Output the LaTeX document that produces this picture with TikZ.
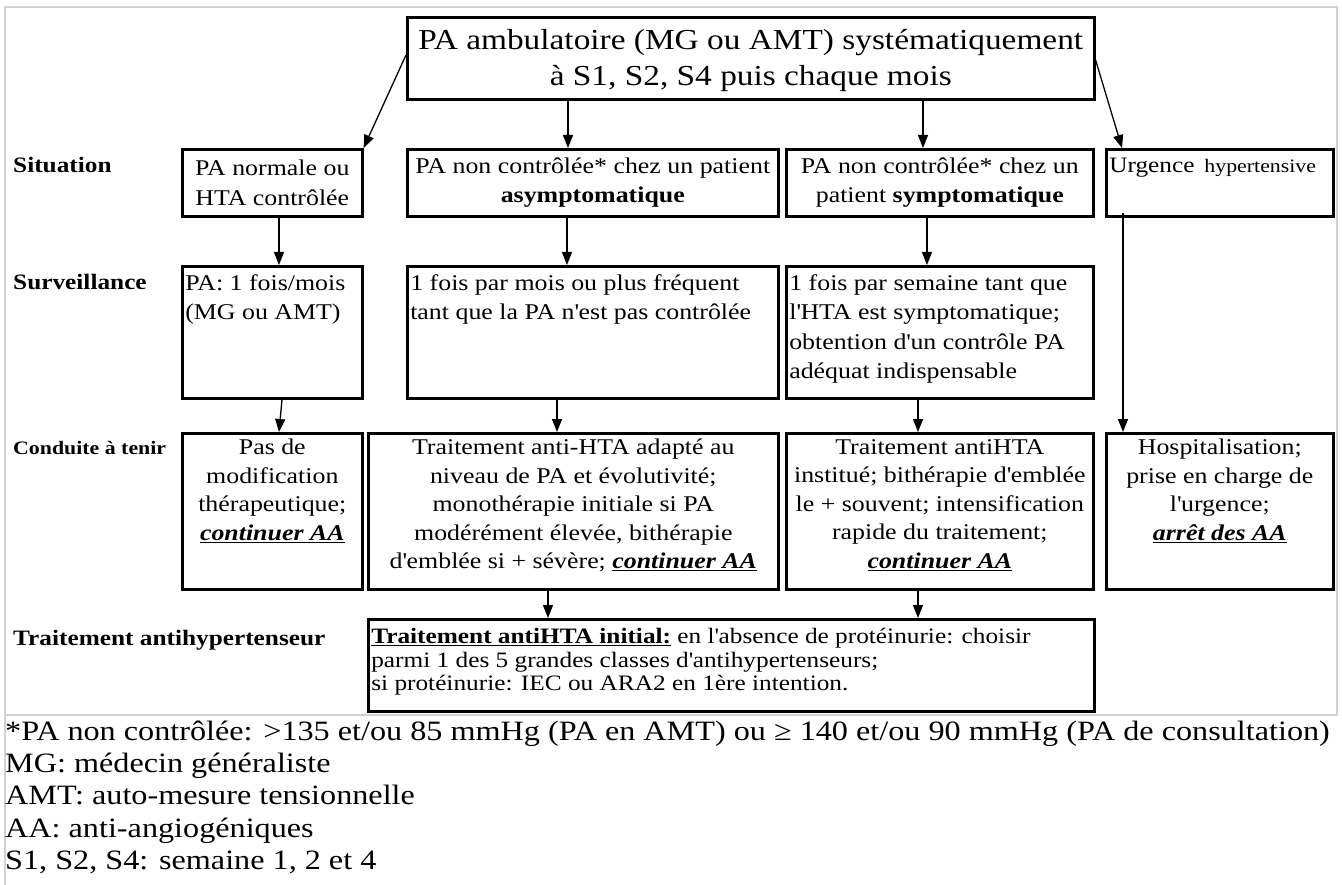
\documentclass[tikz,border=0pt]{standalone}
\usepackage{fontspec}
\setmainfont{Liberation Serif}[FakeStretch=1.15]
\usetikzlibrary{arrows.meta,calc}
\newcommand{\cellT}[4]{\begin{minipage}[c][#2pt][t]{#1pt}\vspace*{#3pt}#4\end{minipage}}
\newcommand{\cellC}[3]{\begin{minipage}[c][#2pt][c]{#1pt}#3\end{minipage}}
\newcommand{\cAA}[1]{\underline{\textbf{\textit{#1}}}}
\newcommand{\ap}{\textquotesingle}
\begin{document}
\begin{tikzpicture}[x=1pt,y=-1pt,
  box/.style={draw, line width=2.6pt, inner xsep=3pt, inner ysep=0pt, anchor=north west,
    font=\fontsize{22.5}{29.5}\selectfont},
  arr/.style={line width=1.3pt, -{Triangle[width=10pt,length=13pt]}},
  lab/.style={anchor=base west, inner sep=0pt, font=\bfseries\fontsize{22}{26}\selectfont},
  leg/.style={anchor=base west, inner sep=0pt, font=\fontsize{28}{32}\selectfont},
  frame/.style={draw=black!18, line width=1.5pt}]
\useasboundingbox (0,0) rectangle (1342,885);
\draw[frame] (5,7) rectangle (1337,715);
\draw[frame] (5,715) -- (5,885);

% top
\node[box, font=\fontsize{29}{36.5}\selectfont] (top) at (406,16)
  {\cellT{681}{82}{12}{\centering PA ambulatoire (MG ou AMT) systématiquement\\ à S1, S2, S4 puis chaque mois}};

% row labels
\node[lab] (l1) at (13,173) {Situation};
\node[lab] (l2) at (13,290) {Surveillance};
\node[lab, font=\bfseries\fontsize{19}{23}\selectfont] (l3) at (13,454) {Conduite à tenir};
\node[lab] (l4) at (13,645) {Traitement antihypertenseur};

% situation row
\node[box] (A1) at (181,148) {\cellC{174}{67}{\centering PA normale ou\\ HTA contrôlée}};
\node[box] (B1) at (406,148) {\cellC{365}{67}{\centering PA non contrôlée* chez un patient\\ \textbf{asymptomatique}}};
\node[box] (C1) at (785,148) {\cellC{301}{67}{\centering PA non contrôlée* chez un\\ patient \textbf{symptomatique}}};
\node[box] (D1) at (1105,148) {\cellT{221}{67}{9}{\raggedright\fontsize{22}{28}\selectfont Urgence\hspace{0.45em}{\fontsize{19}{24}\selectfont hypertensive}}};

% surveillance row
\node[box] (A2) at (181,265) {\cellT{174}{132}{8}{\raggedright PA: 1 fois/mois\\ (MG ou AMT)}};
\node[box] (B2) at (406,265) {\cellT{365}{132}{8}{\raggedright 1 fois par mois ou plus fréquent\\ tant que la PA n\ap est pas contrôlée}};
\node[box] (C2) at (785,265) {\cellT{301}{132}{8}{\raggedright 1 fois par semaine tant que\\ l\ap HTA est symptomatique;\\ obtention d\ap un contrôle PA\\ adéquat indispensable}};

% conduite row
\node[box, font=\fontsize{22.5}{28.5}\selectfont] (A3) at (181,432) {\cellT{174}{156}{6}{\centering Pas de\\ modification\\ thérapeutique;\\ \cAA{continuer AA}}};
\node[box, font=\fontsize{22.5}{28.5}\selectfont] (B3) at (367,432) {\cellT{404}{156}{6}{\centering Traitement anti-HTA adapté au\\ niveau de PA et évolutivité;\\ monothérapie initiale si PA\\ modérément élevée, bithérapie\\ d\ap emblée si + sévère; \cAA{continuer AA}}};
\node[box, font=\fontsize{22.5}{28.5}\selectfont] (C3) at (785,432) {\cellT{301}{156}{6}{\centering Traitement antiHTA\\ institué; bithérapie d\ap emblée\\ le + souvent; intensification\\ rapide du traitement;\\ \cAA{continuer AA}}};
\node[box, font=\fontsize{22.5}{28.5}\selectfont] (D3) at (1105,432) {\cellT{221}{156}{6}{\centering Hospitalisation;\\ prise en charge de\\ l\ap urgence;\\ \cAA{arrêt des AA}}};

% bottom
\node[box] (bot) at (367,618) {\cellT{720}{92}{9}{\raggedright\fontsize{22}{23.5}\selectfont\lineskiplimit=-30pt
  \underline{\textbf{Traitement antiHTA initial:}} en l\ap absence de protéinurie: choisir\\ parmi 1 des 5 grandes classes d\ap antihypertenseurs;\\ si protéinurie: IEC ou ARA2 en 1ère intention.}};

% arrows
\draw[arr] ($(top.north west)+(0,39)$) -- (A1.north east);
\draw[arr] ($(top.south west)+(162,0)$) -- ($(B1.north west)+(162,0)$);
\draw[arr] ($(top.south west)+(517,0)$) -- ($(C1.north west)+(138,0)$);
\draw[arr] ($(top.north east)+(0,44)$) -- ($(D1.north west)+(17,0)$);
\draw[arr] ($(A1.south west)+(98,0)$) -- ($(A2.north west)+(98,0)$);
\draw[arr] ($(B1.south west)+(161,0)$) -- ($(B2.north west)+(161,0)$);
\draw[arr] ($(C1.south west)+(142,0)$) -- ($(C2.north west)+(142,0)$);
\draw[arr] ($(D1.south west)+(18,-5)$) -- ($(D3.north west)+(18,0)$);
\draw[arr] ($(A2.south west)+(101,0)$) -- ($(A3.north west)+(98,0)$);
\draw[arr] ($(B2.south west)+(151,0)$) -- ($(B3.north west)+(190,0)$);
\draw[arr] ($(C2.south west)+(133,0)$) -- ($(C3.north west)+(133,0)$);
\draw[arr] ($(B3.south west)+(181,0)$) -- ($(bot.north west)+(181,0)$);
\draw[arr] ($(C3.south west)+(133,0)$) -- ($(bot.north west)+(551,0)$);

% legend
\node[leg] (g1) at (5,740) {*PA non contrôlée: >135 et/ou 85 mmHg (PA en AMT) ou ≥ 140 et/ou 90 mmHg (PA de consultation)};
\node[leg] (g2) at (5,772.4) {MG: médecin généraliste};
\node[leg] (g3) at (5,804.8) {AMT: auto-mesure tensionnelle};
\node[leg] (g4) at (5,837.2) {AA: anti-angiogéniques};
\node[leg] (g5) at (5,869.6) {S1, S2, S4: semaine 1, 2 et 4};
\end{tikzpicture}
\end{document}
